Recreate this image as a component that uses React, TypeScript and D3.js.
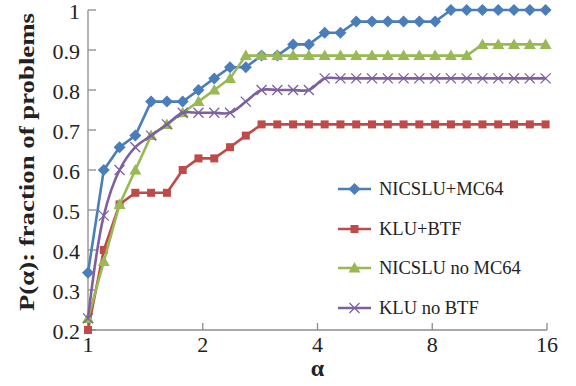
import React from "react";
import * as d3 from "d3";

const W = 576;
const H = 386;
const margin = { top: 10, right: 29, bottom: 56, left: 88 };

// alpha values (performance ratio) at each marker
const alphas = [
  1, 1.1, 1.21, 1.331, 1.464, 1.611, 1.772, 1.949, 2.144, 2.358,
  2.594, 2.853, 3.138, 3.452, 3.797, 4.177, 4.595, 5.054, 5.56, 6.116,
  6.728, 7.4, 8.14, 8.954, 9.85, 10.835, 11.918, 13.11, 14.421, 15.863,
];

const nicsluMc64 = [
  0.343, 0.6, 0.657, 0.686, 0.771, 0.771, 0.771, 0.8, 0.829, 0.857,
  0.857, 0.886, 0.886, 0.914, 0.914, 0.943, 0.943, 0.971, 0.971, 0.971,
  0.971, 0.971, 0.971, 1, 1, 1, 1, 1, 1, 1,
];
const kluBtf = [
  0.2, 0.4, 0.514, 0.543, 0.543, 0.543, 0.6, 0.629, 0.629, 0.657,
  0.686, 0.714, 0.714, 0.714, 0.714, 0.714, 0.714, 0.714, 0.714, 0.714,
  0.714, 0.714, 0.714, 0.714, 0.714, 0.714, 0.714, 0.714, 0.714, 0.714,
];
const nicsluNoMc64 = [
  0.229, 0.371, 0.514, 0.6, 0.686, 0.714, 0.743, 0.771, 0.8, 0.829,
  0.886, 0.886, 0.886, 0.886, 0.886, 0.886, 0.886, 0.886, 0.886, 0.886,
  0.886, 0.886, 0.886, 0.886, 0.886, 0.914, 0.914, 0.914, 0.914, 0.914,
];
const kluNoBtf = [
  0.229, 0.486, 0.6, 0.657, 0.686, 0.714, 0.743, 0.743, 0.743, 0.743,
  0.771, 0.8, 0.8, 0.8, 0.8, 0.829, 0.829, 0.829, 0.829, 0.829,
  0.829, 0.829, 0.829, 0.829, 0.829, 0.829, 0.829, 0.829, 0.829, 0.829,
];

const xTicks = [1, 2, 4, 8, 16];
const yTicks = [0.2, 0.3, 0.4, 0.5, 0.6, 0.7, 0.8, 0.9, 1];

const series = [
  { name: "NICSLU+MC64", values: nicsluMc64, color: "#4a7ebb", marker: "diamond", smooth: false },
  { name: "KLU+BTF", values: kluBtf, color: "#be4b48", marker: "square", smooth: false },
  { name: "NICSLU no MC64", values: nicsluNoMc64, color: "#98b954", marker: "triangle", smooth: false },
  { name: "KLU no BTF", values: kluNoBtf, color: "#7d60a0", marker: "x", smooth: true },
];

function Marker({ type, x, y, color }: { type: string; x: number; y: number; color: string }) {
  if (type === "diamond") {
    const s = 6;
    return <path d={`M${x},${y - s}L${x + s},${y}L${x},${y + s}L${x - s},${y}Z`} fill={color} />;
  }
  if (type === "square") {
    const s = 4;
    return <rect x={x - s} y={y - s} width={2 * s} height={2 * s} fill={color} />;
  }
  if (type === "triangle") {
    return <path d={`M${x},${y - 6}L${x + 6},${y + 4.5}L${x - 6},${y + 4.5}Z`} fill={color} />;
  }
  const s = 5;
  return (
    <path
      d={`M${x - s},${y - s}L${x + s},${y + s}M${x - s},${y + s}L${x + s},${y - s}`}
      stroke={color}
      strokeWidth={1.3}
      fill="none"
    />
  );
}

export default function App() {
  React.useEffect(() => {
    document.body.style.margin = "0";
  }, []);

  const x = d3
    .scaleLog()
    .base(2)
    .domain([1, 16])
    .range([margin.left, W - margin.right]);
  const y = d3
    .scaleLinear()
    .domain([0.2, 1])
    .range([H - margin.bottom, margin.top]);

  const axisColor = "#8c8c8c";
  const legendX = 338;
  const legendY = [189, 229, 268, 308];

  return (
    <svg width={W} height={H} style={{ display: "block", background: "#fff" }}>
      <style>{`.t { font-family: "Liberation Serif", "Times New Roman", serif; fill: #222; }`}</style>
      {/* axes */}
      <line x1={x(1)} x2={x(1)} y1={y(1)} y2={y(0.2)} stroke={axisColor} strokeWidth={1.3} />
      <line x1={x(1)} x2={x(16)} y1={y(0.2)} y2={y(0.2)} stroke={axisColor} strokeWidth={1.3} />
      {yTicks.map((t) => (
        <g key={"y" + t}>
          <line x1={x(1)} x2={x(1) + 8} y1={y(t)} y2={y(t)} stroke={axisColor} strokeWidth={1.3} />
          <text className="t" x={80} y={y(t) + 1} dy="0.35em" textAnchor="end" fontSize={22}>
            {d3.format("")(t)}
          </text>
        </g>
      ))}
      {xTicks.map((t) => (
        <g key={"x" + t}>
          <line x1={x(t)} x2={x(t)} y1={y(0.2)} y2={y(0.2) - 7} stroke={axisColor} strokeWidth={1.3} />
          <text className="t" x={x(t)} y={352} textAnchor="middle" fontSize={22}>
            {t}
          </text>
        </g>
      ))}

      {/* axis titles */}
      <text className="t" x={x(4)} y={376} textAnchor="middle" fontSize={24} fontWeight="bold">
        α
      </text>
      <text
        className="t"
        transform={`translate(34, 162) rotate(-90)`}
        textAnchor="middle"
        fontSize={22}
        fontWeight="bold"
        textLength={298}
        lengthAdjust="spacingAndGlyphs"
      >
        P(α): fraction of problems
      </text>

      {/* series */}
      {series.map((s) => {
        const line = d3
          .line<number>()
          .x((_, i) => x(alphas[i]))
          .y((v) => y(v))
          .curve(s.smooth ? d3.curveCatmullRom.alpha(0.5) : d3.curveLinear);
        return (
          <g key={s.name}>
            <path d={line(s.values) || ""} fill="none" stroke={s.color} strokeWidth={2.6} />
            {s.values.map((v, i) => (
              <Marker key={i} type={s.marker} x={x(alphas[i])} y={y(v)} color={s.color} />
            ))}
          </g>
        );
      })}

      {/* legend */}
      {series.map((s, i) => (
        <g key={"lg" + s.name}>
          <line x1={legendX} x2={legendX + 33} y1={legendY[i]} y2={legendY[i]} stroke={s.color} strokeWidth={2.6} />
          <Marker type={s.marker} x={legendX + 16.5} y={legendY[i]} color={s.color} />
          <text className="t" x={379} y={legendY[i]} dy="0.33em" fontSize={18.5}>
            {s.name}
          </text>
        </g>
      ))}
    </svg>
  );
}
